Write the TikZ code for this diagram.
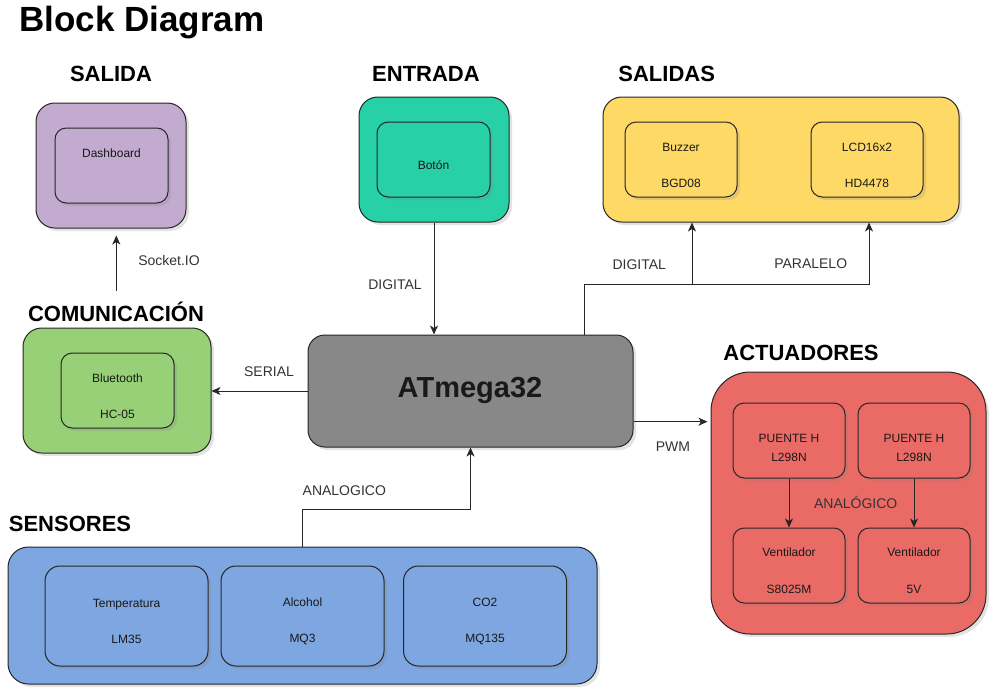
\documentclass[tikz,border=0pt]{standalone}
\usepackage{fontspec}
\setmainfont{Liberation Sans}
\usetikzlibrary{arrows.meta,shadows}
\definecolor{salidaC}{HTML}{C3ABD0}
\definecolor{entradaC}{HTML}{27D0A7}
\definecolor{salidasC}{HTML}{FFD966}
\definecolor{comC}{HTML}{97D077}
\definecolor{atmC}{HTML}{888888}
\definecolor{actC}{HTML}{EA6B66}
\definecolor{senC}{HTML}{7EA6E0}
\begin{document}
\begin{tikzpicture}[x=1pt,y=-1pt,line width=1pt,
  box/.style={draw=black!85,rounded corners=#1,inner sep=0pt,
    drop shadow={shadow xshift=3pt,shadow yshift=-3pt,opacity=0.22}},
  ttl/.style={font=\fontsize{22}{26}\selectfont\bfseries},
  lbl/.style={font=\fontsize{14}{17}\selectfont,text=black!80},
  txt/.style={font=\fontsize{12}{#1}\selectfont,text=black!90,align=center},
  txt/.default=14,
  arr/.style={draw=black!85,-{Stealth[length=9pt,width=8pt,inset=2.5pt]}}]
\useasboundingbox (0,0) rectangle (997,691);
\node[font=\fontsize{35}{40}\selectfont\bfseries] (title) at (141.7,22.7) {Block Diagram};
\node[ttl] (ttlSalida) at (111,74) {SALIDA};
\node[ttl] (ttlEntrada) at (426,74) {ENTRADA};
\node[ttl] (ttlSalidas) at (666.7,74) {SALIDAS};
\node[ttl] (ttlCom) at (116,311.7) {COMUNICACIÓN};
\node[ttl] (ttlAct) at (801,352.7) {ACTUADORES};
\node[ttl] (ttlSen) at (70,524) {SENSORES};
\node[box=18.75pt,fill=salidaC,minimum width=150pt,minimum height=125pt] (salida) at (111,165.5) {};
\node[box=11.25pt,fill=salidaC,minimum width=113pt,minimum height=75pt] (dash) at (111.5,165.5) {};
\node[txt] (dashT) at (111.5,153.3) {Dashboard};
\node[box=18.75pt,fill=entradaC,minimum width=150pt,minimum height=125pt] (entrada) at (434,159.5) {};
\node[box=11.25pt,fill=entradaC,minimum width=113pt,minimum height=75pt] (boton) at (433.5,159.5) {};
\node[txt] (botonT) at (433.5,165.3) {Botón};
\node[box=18.75pt,fill=salidasC,minimum width=356pt,minimum height=125pt] (salidas) at (781,159.5) {};
\node[box=11.25pt,fill=salidasC,minimum width=112pt,minimum height=75pt] (buzzer) at (681,159.5) {};
\node[txt=36] (buzzerT) at (681,165.3) {Buzzer\\BGD08};
\node[box=11.25pt,fill=salidasC,minimum width=112pt,minimum height=75pt] (lcd) at (867,159.5) {};
\node[txt=36] (lcdT) at (867,165.3) {LCD16x2\\HD4478};
\node[box=18.75pt,fill=comC,minimum width=188pt,minimum height=125pt] (com) at (117,390.5) {};
\node[box=11.25pt,fill=comC,minimum width=113pt,minimum height=75pt] (bt) at (117.5,390.5) {};
\node[txt=36] (btT) at (117.5,396.3) {Bluetooth\\HC-05};
\node[box=16.8pt,fill=atmC,minimum width=325pt,minimum height=112pt] (atmega) at (470.5,391) {};
\node[font=\fontsize{29}{34}\selectfont\bfseries,text=black!90] (atmegaT) at (470,390) {ATmega32};
\node[box=39.3pt,fill=actC,minimum width=275pt,minimum height=262pt] (act) at (848.5,503) {};
\node[box=11.25pt,fill=actC,minimum width=112pt,minimum height=75pt] (puente1) at (789,440.5) {};
\node[txt=19] (puente1T) at (789,448.2) {PUENTE H\\L298N};
\node[box=11.25pt,fill=actC,minimum width=112pt,minimum height=75pt] (puente2) at (914,440.5) {};
\node[txt=19] (puente2T) at (914,448.2) {PUENTE H\\L298N};
\node[box=11.25pt,fill=actC,minimum width=112pt,minimum height=75pt] (vent1) at (789,565.5) {};
\node[txt=36.6] (vent1T) at (789,571) {Ventilador\\S8025M};
\node[box=11.25pt,fill=actC,minimum width=112pt,minimum height=75pt] (vent2) at (914,565.5) {};
\node[txt=36.6] (vent2T) at (914,571) {Ventilador\\5V};
\node[box=20.5pt,fill=senC,minimum width=589pt,minimum height=137pt] (sen) at (302.5,615.5) {};
\node[box=15pt,fill=senC,minimum width=163pt,minimum height=100pt] (temp) at (126.5,616) {};
\node[txt=36] (tempT) at (126.5,621.3) {Temperatura\\LM35};
\node[box=15pt,fill=senC,minimum width=163pt,minimum height=100pt] (alc) at (302.5,616) {};
\node[txt=36] (alcT) at (302.5,621.3) {Alcohol\\MQ3};
\node[box=15pt,fill=senC,minimum width=163pt,minimum height=100pt] (co2) at (485,616) {};
\node[txt=36] (co2T) at (485,621.3) {CO2\\MQ135};
\coordinate (sockA) at (116.3,290.7);
\coordinate (split) at (584,284);
\draw[arr,shorten >=7pt] (sockA) -- (sockA |- salida.south);
\draw[arr] (entrada.south) -- (entrada.south |- atmega.north);
\draw[arr] (split |- atmega.north) -- (split) -| ([xshift=88]salidas.south);
\draw[arr] ([xshift=-89]salidas.south |- split) -- ([xshift=-89]salidas.south);
\draw[arr] (atmega.west) -- (atmega.west -| com.east);
\draw[arr,shorten >=3pt] ([yshift=-30.7]atmega.east) -- ([yshift=-30.7]atmega.east -| act.west);
\draw[arr] (sen.north) -- ++(0,-37.5) -| (atmega.south);
\draw[arr] (puente1) -- (vent1);
\draw[arr] (puente2) -- (vent2);
\node[lbl] (lblSocket) at (169,260.7) {Socket.IO};
\node[lbl] (lblDig1) at (395,284.3) {DIGITAL};
\node[lbl] (lblDig2) at (639.3,264.3) {DIGITAL};
\node[lbl] (lblPar) at (810.7,264) {PARALELO};
\node[lbl] (lblSerial) at (269,371.7) {SERIAL};
\node[lbl] (lblPwm) at (673,446.7) {PWM};
\node[lbl] (lblAna1) at (344.3,490.7) {ANALOGICO};
\node[lbl] (lblAna2) at (855.7,502.7) {ANALÓGICO};
\end{tikzpicture}
\end{document}
